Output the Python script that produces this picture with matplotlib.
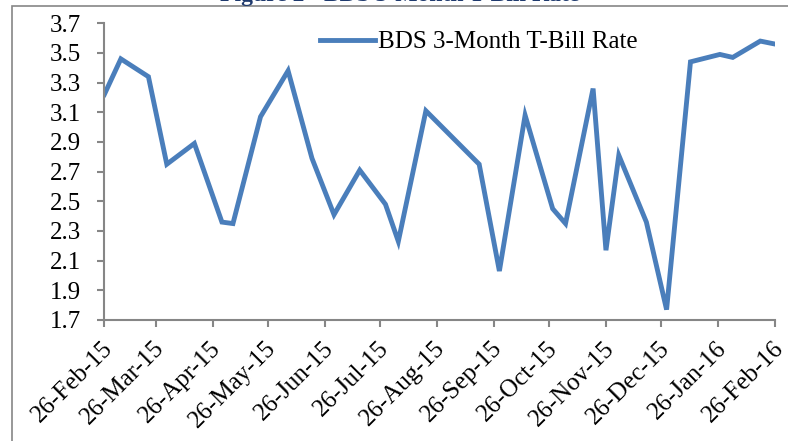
import pandas as pd
import matplotlib.pyplot as plt
import matplotlib.dates as mdates
import matplotlib.transforms as mtransforms
from matplotlib.patches import Rectangle

# Auction dates and rates
dates = ["2015-02-26", "2015-03-07", "2015-03-22", "2015-04-01", "2015-04-16",
         "2015-05-01", "2015-05-07", "2015-05-22", "2015-06-06", "2015-06-19",
         "2015-07-01", "2015-07-15", "2015-07-29", "2015-08-05", "2015-08-20",
         "2015-09-18", "2015-09-29", "2015-10-13", "2015-10-28", "2015-11-04",
         "2015-11-19", "2015-11-26", "2015-12-03", "2015-12-18", "2015-12-29",
         "2016-01-11", "2016-01-27", "2016-02-03", "2016-02-18", "2016-02-26"]
rates = [3.22, 3.46, 3.34, 2.75, 2.89,
         2.36, 2.35, 3.07, 3.38, 2.79,
         2.41, 2.71, 2.48, 2.23, 3.11,
         2.75, 2.03, 3.08, 2.45, 2.35,
         3.26, 2.17, 2.81, 2.36, 1.77,
         3.44, 3.49, 3.47, 3.58, 3.56]
tick_dates = ["2015-02-26", "2015-03-26", "2015-04-26", "2015-05-26", "2015-06-26",
              "2015-07-26", "2015-08-26", "2015-09-26", "2015-10-26", "2015-11-26",
              "2015-12-26", "2016-01-26", "2016-02-26"]
y_ticks = [1.7, 1.9, 2.1, 2.3, 2.5, 2.7, 2.9, 3.1, 3.3, 3.5, 3.7]

x = pd.to_datetime(dates)
xt = pd.to_datetime(tick_dates)

plt.rcParams['font.family'] = ['Liberation Serif', 'DejaVu Serif']
grey = '#868686'

fig = plt.figure(figsize=(7.88, 4.41), dpi=100)
ax = fig.add_axes([0.1324, 0.2744, 0.8511, 0.6728])

ax.plot(x, rates, color='#4A7EBB', linewidth=3.5, label='BDS 3-Month T-Bill Rate',
        solid_joinstyle='miter')

ax.set_xlim(xt[0], xt[-1])
ax.set_ylim(1.7, 3.7)
ax.set_yticks(y_ticks)
ax.set_yticklabels([f"{v:.1f}" for v in y_ticks])
ax.set_xticks(xt)
ax.xaxis.set_major_formatter(mdates.DateFormatter('%d-%b-%y'))

for side in ['top', 'right']:
    ax.spines[side].set_visible(False)
for side in ['left', 'bottom']:
    ax.spines[side].set_color(grey)
    ax.spines[side].set_linewidth(1.5)

ax.tick_params(axis='both', direction='out', length=5, width=1.5, color=grey,
               labelsize=18)
ax.tick_params(axis='y', pad=12)
ax.tick_params(axis='x', pad=13)
shift = mtransforms.ScaledTranslation(5 / 100, 0, fig.dpi_scale_trans)
for lbl in ax.get_xticklabels():
    lbl.set_rotation(45)
    lbl.set_ha('right')
    lbl.set_va('center')
    lbl.set_rotation_mode('anchor')
    lbl.set_transform(lbl.get_transform() + shift)

ax.legend(loc='upper left', bbox_to_anchor=(320 / 788, 1 - 31 / 441),
          bbox_transform=fig.transFigure, frameon=False, fontsize=18,
          handlelength=2.2, handletextpad=0.1, borderpad=0, borderaxespad=0)

# outer chart border and clipped title
fig.patches.append(Rectangle((12 / 788, -0.1), 1.2, 1 - 6 / 441 + 0.1,
                             transform=fig.transFigure, fill=False,
                             edgecolor=grey, linewidth=1.2))
fig.text(400 / 788, 1 - 1 / 441, 'Figure 2 - BDS 3-Month T-Bill Rate',
         ha='center', va='baseline', fontsize=17, fontweight='bold',
         color='#1F3A6E')

fig.savefig('out.png', dpi=100)
